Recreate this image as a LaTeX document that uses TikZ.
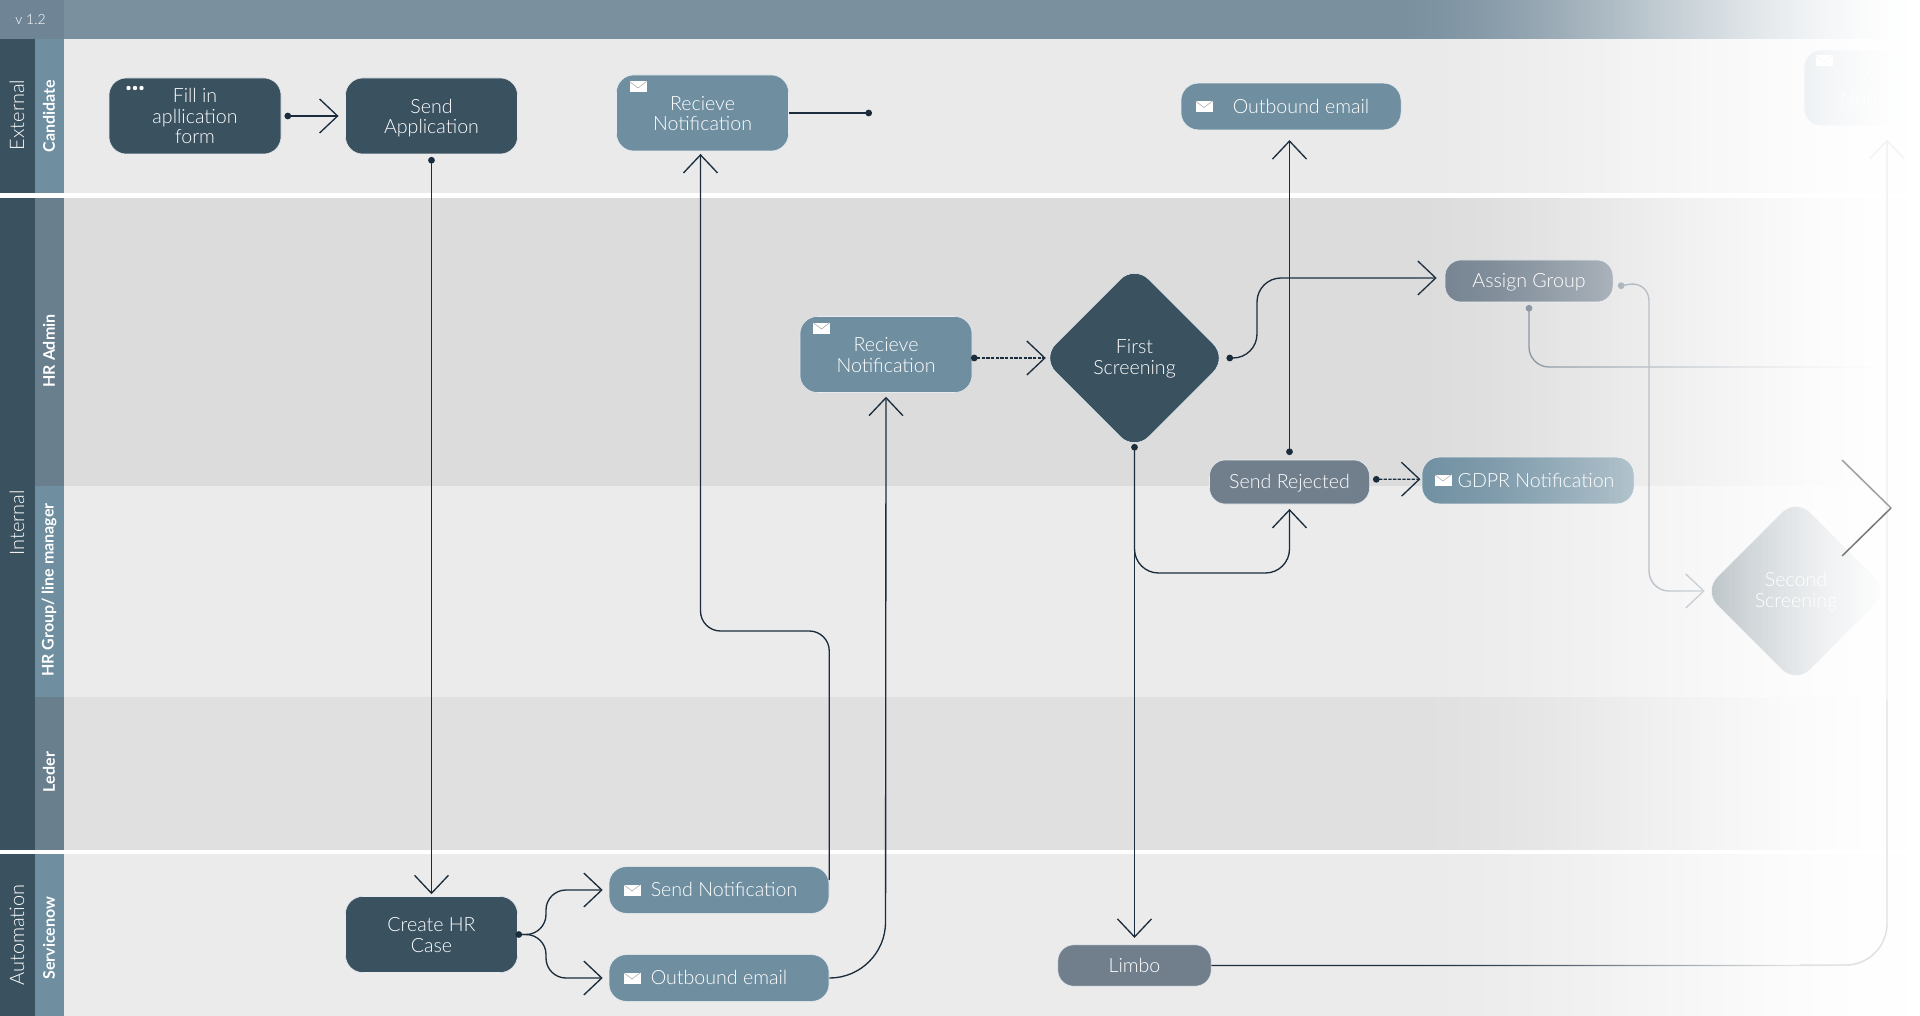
\documentclass[tikz,border=0pt]{standalone}
\usepackage{fontspec}
\setmainfont{Lato Light}
\newfontfamily\boldlab{Lato Bold}
\usetikzlibrary{arrows.meta,shapes.geometric,calc}
\definecolor{cdark}{HTML}{3A5160}
\definecolor{cmid}{HTML}{6F8FA1}
\definecolor{cmidd}{HTML}{6A7F8E}
\definecolor{cgray}{HTML}{717F8D}
\definecolor{chead}{HTML}{7A909F}
\definecolor{cver}{HTML}{6F8595}
\definecolor{cline}{HTML}{1B2D3D}
\definecolor{bandA}{HTML}{EAEAEA}
\definecolor{bandB}{HTML}{DCDCDC}
\definecolor{bandC}{HTML}{EBEBEB}
\definecolor{bandD}{HTML}{E0E0E0}
\definecolor{cedge}{HTML}{E6ECEF}
\definecolor{tailA}{HTML}{DDE0E3}
\definecolor{tailB}{HTML}{F1F3F4}
\newcommand{\topstrut}{\rule{0pt}{12.8pt}}
\newcommand{\topstrutb}{\rule{0pt}{29pt}}
\newcommand{\topstrutc}{\rule{0pt}{27.5pt}}
\newcommand{\topstrutd}{\rule{0pt}{44.3pt}}
\newcommand{\botstrut}{\rule[-2.6pt]{0pt}{2.6pt}}
\tikzset{
 basebox/.style={rectangle,rounded corners=13pt,inner sep=0pt,align=center,text=white,
   font=\fontsize{14.7}{15.4}\selectfont,draw=cedge,line width=.4pt,
   execute at begin node=\topstrut,execute at end node=\botstrut},
 bigbox/.style={basebox,minimum width=129pt,minimum height=57pt,execute at begin node=\topstrutb},
 darkbox/.style={bigbox,fill=cdark},
 midbox/.style={bigbox,fill=cmid},
 pillbox/.style={basebox,fill=cmid,minimum width=165pt,minimum height=35pt},
 graybox/.style={basebox,fill=cgray,rounded corners=12pt},
 decide/.style={diamond,aspect=1,inner sep=0pt,minimum width=139.5pt,minimum height=139.5pt,rounded corners=15pt,
   fill=cdark,draw=cedge,line width=.4pt,align=center,text=white,font=\fontsize{14.7}{15.4}\selectfont,
   execute at begin node=\topstrutc,execute at end node=\botstrut},
 flow/.style={draw=cline,line width=1pt,-{Straight Barb[length=13.5pt,width=25.5pt]}},
 dotflow/.style={draw=cline,line width=1pt,{Circle[length=5pt]}-{Straight Barb[length=13.5pt,width=25.5pt]}},
 dashflow/.style={dotflow,dash pattern=on 2.5pt off 1pt},
 softflow/.style={dotflow,draw=cgray},
 lanea/.style={rotate=90,text=white,font=\fontsize{15}{15}\selectfont,inner sep=0pt},
 laneb/.style={rotate=90,text=white,font=\boldlab\fontsize{12}{12}\selectfont,inner sep=0pt},
 mail/.pic={\fill[white] (-8.5,-5.5) rectangle (8.5,5.5);
   \draw[line width=.4pt,gray!70] (-8.5,-5.5) -- (0,1) -- (8.5,-5.5);},
}
\begin{document}
\begin{tikzpicture}[x=0.75pt,y=-0.75pt]
\useasboundingbox (0,0) rectangle (1920,1016);
\clip (0,0) rectangle (1920,1016);
% bands
\fill[white] (0,0) rectangle (1920,1016);
\fill[chead] (0,0) rectangle (1920,39);
\fill[cver] (0,0) rectangle (64,39);
\fill[bandA] (64,39) rectangle (1920,193);
\fill[bandB] (64,198) rectangle (1920,486);
\fill[bandC] (64,486) rectangle (1920,697);
\fill[bandD] (64,697) rectangle (1920,850);
\fill[bandC] (64,854) rectangle (1920,1016);
\fill[cdark] (0,39) rectangle (35,193);
\fill[cdark] (0,198) rectangle (35,850);
\fill[cdark] (0,854) rectangle (35,1016);
\fill[cmid] (35,39) rectangle (64,193);
\fill[cmidd] (35,198) rectangle (64,486);
\fill[cmid] (35,486) rectangle (64,697);
\fill[cmidd] (35,697) rectangle (64,850);
\fill[cmid] (35,854) rectangle (64,1016);
% lane labels
\node[text=white,font=\fontsize{10.5}{12}\selectfont,inner sep=0pt] (ver) at (30.5,20) {v 1.2};
\node[lanea] (lext) at (17,115) {External};
\node[lanea] (lint) at (17,523) {Internal};
\node[lanea] (laut) at (17,935) {Automation};
\node[laneb] (lcan) at (49,116) {Candidate};
\node[laneb] (ladm) at (49,351) {HR Admin};
\node[laneb] (lgrp) at (49,590) {HR Group/ line manager};
\node[laneb] (lled) at (49,772) {Leder};
\node[laneb] (lsrv) at (49,938) {Servicenow};
% nodes
\node[darkbox,execute at begin node=\topstrutd] (fill) at (195,116) {Fill in\\apllication\\form};
\node[darkbox] (send) at (431.5,116) {Send\\Application};
\node[midbox] (rectop) at (702.5,113) {Recieve\\Notification};
\node[pillbox] (outtop) at (1291,106.5) {\hspace*{15pt}Outbound email};
\node[midbox] (gt) at (1890,88) {GDPR\\Notification};
\node[midbox] (recmid) at (886,354.5) {Recieve\\Notification};
\node[decide] (first) at (1134.5,358) {First\\Screening};
\node[graybox,minimum width=126pt,minimum height=31.5pt] (assign) at (1529,281) {Assign Group};
\node[graybox,minimum width=120pt,minimum height=33pt] (rej) at (1289.5,482) {Send Rejected};
\node[pillbox,minimum width=159pt] (gdpr) at (1528,480.5) {\hspace*{12pt}GDPR Notification};
\node[decide] (second) at (1796,591) {Second\\Screening};
\node[darkbox] (create) at (431.5,934.5) {Create HR\\Case};
\node[pillbox] (sn) at (719,890) {\hspace*{7.5pt}Send Notification};
\node[pillbox] (oe) at (719,978) {\hspace*{0pt}Outbound email};
\node[graybox,minimum width=115pt,minimum height=31pt] (limbo) at (1134.5,965.5) {Limbo};
% icons
\pic at (638,87) {mail};
\pic at (821.5,328) {mail};
\pic at (1824,61) {mail};
\pic at (1204,106.5) {mail};
\pic at (1443,480) {mail};
\pic at (632,890) {mail};
\pic at (632,978) {mail};
\fill[white] (128.5,88) circle (2.2) (135,88) circle (2.2) (141.5,88) circle (2.2);
% helper points
\coordinate (w1) at (0,631);
\coordinate (w2) at (1649,0);
\coordinate (w3) at (1870,367);
\coordinate (w4) at (1257,0);
\coordinate (w5) at (0,573);
\coordinate (w6) at (546,0);
\coordinate (w7) at (885.5,0);
\coordinate (recend) at (872,113);
\coordinate (w8) at (1887,0);
\coordinate (tailstart) at (1800,965);
\coordinate (tailmid) at (1887,700);
\coordinate (asgin) at ([yshift=2.25pt]assign.west);
% connectors
\draw[dotflow,shorten <=2.4pt,shorten >=5pt] (fill.east) -- (send.west);
\draw[dotflow,shorten <=2pt,shorten >=1.5pt] (send.south) -- (create.north);
\draw[draw=cline,line width=1pt,-{Circle[length=5pt]}] (rectop.east) -- (recend);
\draw[flow,rounded corners=15pt,shorten >=2pt] ([yshift=7.5pt]sn.east) -- (sn.east |- w1) -- ([xshift=-1.5pt]rectop.south |- w1) -- ([xshift=-1.5pt]rectop.south);
\draw[flow,rounded corners=42pt,shorten >=3pt] (oe.east) -- (w7 |- oe.east) -- (recmid.south);
\draw[dashflow,shorten <=-1pt] (recmid.east |- first.west) -- ([xshift=3.4pt]first.west);
\draw[dotflow,rounded corners=18pt,shorten <=-1pt,shorten >=6pt] (first.east) -- (w4 |- first.east) -- (w4 |- asgin) -- (asgin);
\draw[dotflow,shorten <=3.5pt,shorten >=7.5pt] (rej.north) -- (rej.north |- outtop.south);
\draw[dashflow,shorten <=2.4pt,shorten >=1pt] ([yshift=2pt]rej.east) -- ([yshift=1pt]gdpr.west);
\draw[dotflow,rounded corners=18pt,shorten >=3.5pt] ([yshift=5.5pt]first.south) -- (first.south |- w5) -- (rej.south |- w5) -- (rej.south);
\draw[flow,shorten >=5pt] (first.south) -- (limbo.north);
\draw[dotflow,rounded corners=15pt,shorten <=-1.75pt,shorten >=4.5pt] (create.east) -- (w6 |- create.east) -- (w6 |- sn.west) -- (sn.west);
\draw[flow,rounded corners=15pt,shorten >=4.5pt] (create.east) -- (w6 |- create.east) -- (w6 |- oe.west) -- (oe.west);
\draw[flow,rounded corners=31pt] (limbo.east) -- (w8 |- limbo.east) -- (w8 |- gt.south) -- ([xshift=-2.25pt,yshift=-10pt]gt.south);
\draw[softflow,rounded corners=15pt,shorten <=3.5pt,shorten >=0pt] ([yshift=-4.5pt]assign.east) -- (w2 |- assign.east) -- (w2 |- second.west) -- ([xshift=1.5pt]second.west);
\draw[draw=cgray,line width=1pt,{Circle[length=5pt]}-,rounded corners=15pt,shorten <=2pt] (assign.south) -- (assign.south |- w3) -- (w3);
% fade towards the right: independent strips, 3 px wide
\foreach \i in {0,...,181}{
  \pgfmathsetmacro{\xa}{1375+3*\i}
  \pgfmathsetmacro{\xb}{\xa+3}
  \pgfmathsetmacro{\tv}{(\i+0.5)/182}
  \pgfmathsetmacro{\av}{3*\tv*\tv-2*\tv*\tv*\tv}
  \fill[white,opacity=\av] (\xa,0) rectangle (\xb,1016);
}
% faint tail of the Limbo connector, still visible through the fade
\draw[tailA,line width=1pt,rounded corners=31pt] (tailstart) -- (w8 |- tailstart) -- (w8 |- tailmid);
\draw[tailB,line width=1pt,-{Straight Barb[length=13.5pt,width=25.5pt]}] (w8 |- tailmid) -- ([xshift=-2.25pt,yshift=-10pt]gt.south);
% chevron on top
\coordinate (cha) at (1842,460);
\coordinate (chb) at (1891,508);
\coordinate (chc) at (1842,556);
\draw[black!8,line width=1.6pt,xshift=-1pt,yshift=-1pt] (cha) -- (chb) -- (chc);
\draw[black!38,line width=1pt] (cha) -- (chb);
\draw[black!55,line width=1pt] (chb) -- (chc);
\end{tikzpicture}
\end{document}
